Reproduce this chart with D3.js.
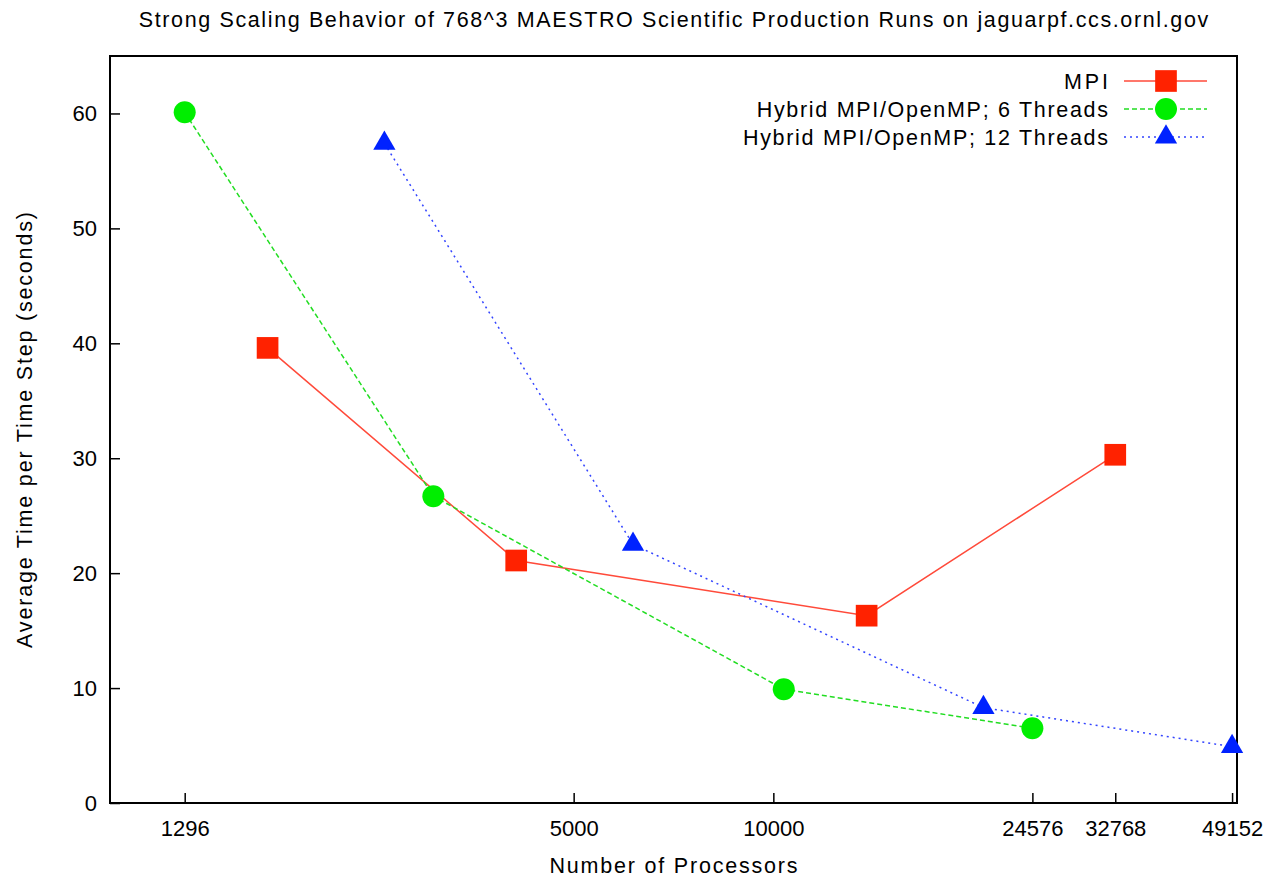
<!DOCTYPE html>
<html>
<head>
<meta charset="utf-8">
<script src="https://cdn.jsdelivr.net/npm/d3@7"></script>
<style>
  body { margin: 0; background: #fff; }
  text { font-family: "Liberation Sans", Arial, sans-serif; fill: #000; }
</style>
</head>
<body>
<script>
var w = 1270;
var h = 879;
var margin = {top: 56, right: 33, bottom: 76, left: 110};

// data
var mpi_procs = [1728, 4096, 13824, 32768];
var mpi_time = [39.6, 21.1, 16.3, 30.3];
var omp6_procs = [1296, 3072, 10368, 24576];
var omp6_time = [60.1, 26.7, 9.9, 6.5];
var omp12_procs = [2592, 6144, 20736, 49152];
var omp12_time = [57.4, 22.5, 8.3, 4.9];

var x_ticks = [1296, 5000, 10000, 24576, 32768, 49152];
var y_ticks = [0, 10, 20, 30, 40, 50, 60];

var series = [
  {name: "MPI", procs: mpi_procs, time: mpi_time, color: "#ff2200", line: "#ff4a3a", dash: null, symbol: d3.symbolSquare, size: 470},
  {name: "Hybrid MPI/OpenMP; 6 Threads", procs: omp6_procs, time: omp6_time, color: "#00ee00", line: "#22dd22", dash: "5,3", symbol: d3.symbolCircle, size: 380},
  {name: "Hybrid MPI/OpenMP; 12 Threads", procs: omp12_procs, time: omp12_time, color: "#0022ff", line: "#3344ff", dash: "2,4", symbol: d3.symbolTriangle, size: 215}
];

// gnuplot's png text is wider than Liberation Sans at the same height
function widen(sel, f) {
  sel.each(function() {
    var len = this.getComputedTextLength();
    d3.select(this).attr("textLength", len * f).attr("lengthAdjust", "spacing");
  });
}

var svg = d3.select("body").append("svg").attr("width", w).attr("height", h);

var x = d3.scaleLog().domain([1000, 50000]).range([margin.left, w - margin.right]);
var y = d3.scaleLinear().domain([0, 65]).range([h - margin.bottom, margin.top]);

// frame
svg.append("rect")
  .attr("x", margin.left).attr("y", margin.top)
  .attr("width", w - margin.right - margin.left)
  .attr("height", h - margin.bottom - margin.top)
  .attr("fill", "none").attr("stroke", "#000").attr("stroke-width", 2);

// axes, ticks pointing inward
var xAxis = d3.axisBottom(x).tickValues(x_ticks).tickFormat(d3.format("d"))
  .tickSizeInner(-10).tickSizeOuter(0).tickPadding(17);
var gx = svg.append("g").attr("transform", "translate(0," + (h - margin.bottom) + ")").call(xAxis);
gx.select(".domain").remove();
gx.selectAll("line").attr("stroke-width", 1.5);
gx.selectAll("text").attr("font-size", 22).attr("font-family", "Liberation Sans, Arial, sans-serif");

var yAxis = d3.axisLeft(y).tickValues(y_ticks).tickFormat(d3.format("d"))
  .tickSizeInner(-10).tickSizeOuter(0).tickPadding(13);
var gy = svg.append("g").attr("transform", "translate(" + margin.left + ",0)").call(yAxis);
gy.select(".domain").remove();
gy.selectAll("line").attr("stroke-width", 1.5);
gy.selectAll("text").attr("font-size", 22).attr("font-family", "Liberation Sans, Arial, sans-serif");

// titles
var cx = (margin.left + w - margin.right) / 2;
svg.append("text").attr("x", cx).attr("y", 27).attr("text-anchor", "middle")
  .attr("font-size", 21.5).text("Strong Scaling Behavior of 768^3 MAESTRO Scientific Production Runs on jaguarpf.ccs.ornl.gov")
  .call(widen, 1.16);
svg.append("text").attr("x", cx).attr("y", 873).attr("text-anchor", "middle")
  .attr("font-size", 21.5).text("Number of Processors")
  .call(widen, 1.16);
svg.append("text")
  .attr("transform", "translate(32,430) rotate(-90)")
  .attr("text-anchor", "middle").attr("font-size", 21.5)
  .text("Average Time per Time Step (seconds)")
  .call(widen, 1.17);

// lines and points
var line = d3.line().x(function(d) { return x(d[0]); }).y(function(d) { return y(d[1]); });

series.forEach(function(s) {
  var pts = s.procs.map(function(p, i) { return [p, s.time[i]]; });
  svg.append("path").datum(pts)
    .attr("d", line)
    .attr("fill", "none")
    .attr("stroke", s.line)
    .attr("stroke-width", 1.5)
    .attr("stroke-dasharray", s.dash);
  svg.selectAll(null).data(pts).enter()
    .append("path")
    .attr("d", d3.symbol().type(s.symbol).size(s.size))
    .attr("transform", function(d) { return "translate(" + x(d[0]) + "," + y(d[1]) + ")"; })
    .attr("fill", s.color);
});

// legend
var legend = svg.append("g");
series.forEach(function(s, i) {
  var ly = 81 + i * 28;
  legend.append("text").attr("x", 1108).attr("y", ly + 8).attr("text-anchor", "end")
    .attr("font-size", 21.5).text(s.name)
    .call(widen, 1.15);
  legend.append("line").attr("x1", 1124).attr("x2", 1207).attr("y1", ly).attr("y2", ly)
    .attr("stroke", s.line).attr("stroke-width", 1.5).attr("stroke-dasharray", s.dash);
  legend.append("path")
    .attr("d", d3.symbol().type(s.symbol).size(s.size))
    .attr("transform", "translate(1166," + ly + ")")
    .attr("fill", s.color);
});
</script>
</body>
</html>
